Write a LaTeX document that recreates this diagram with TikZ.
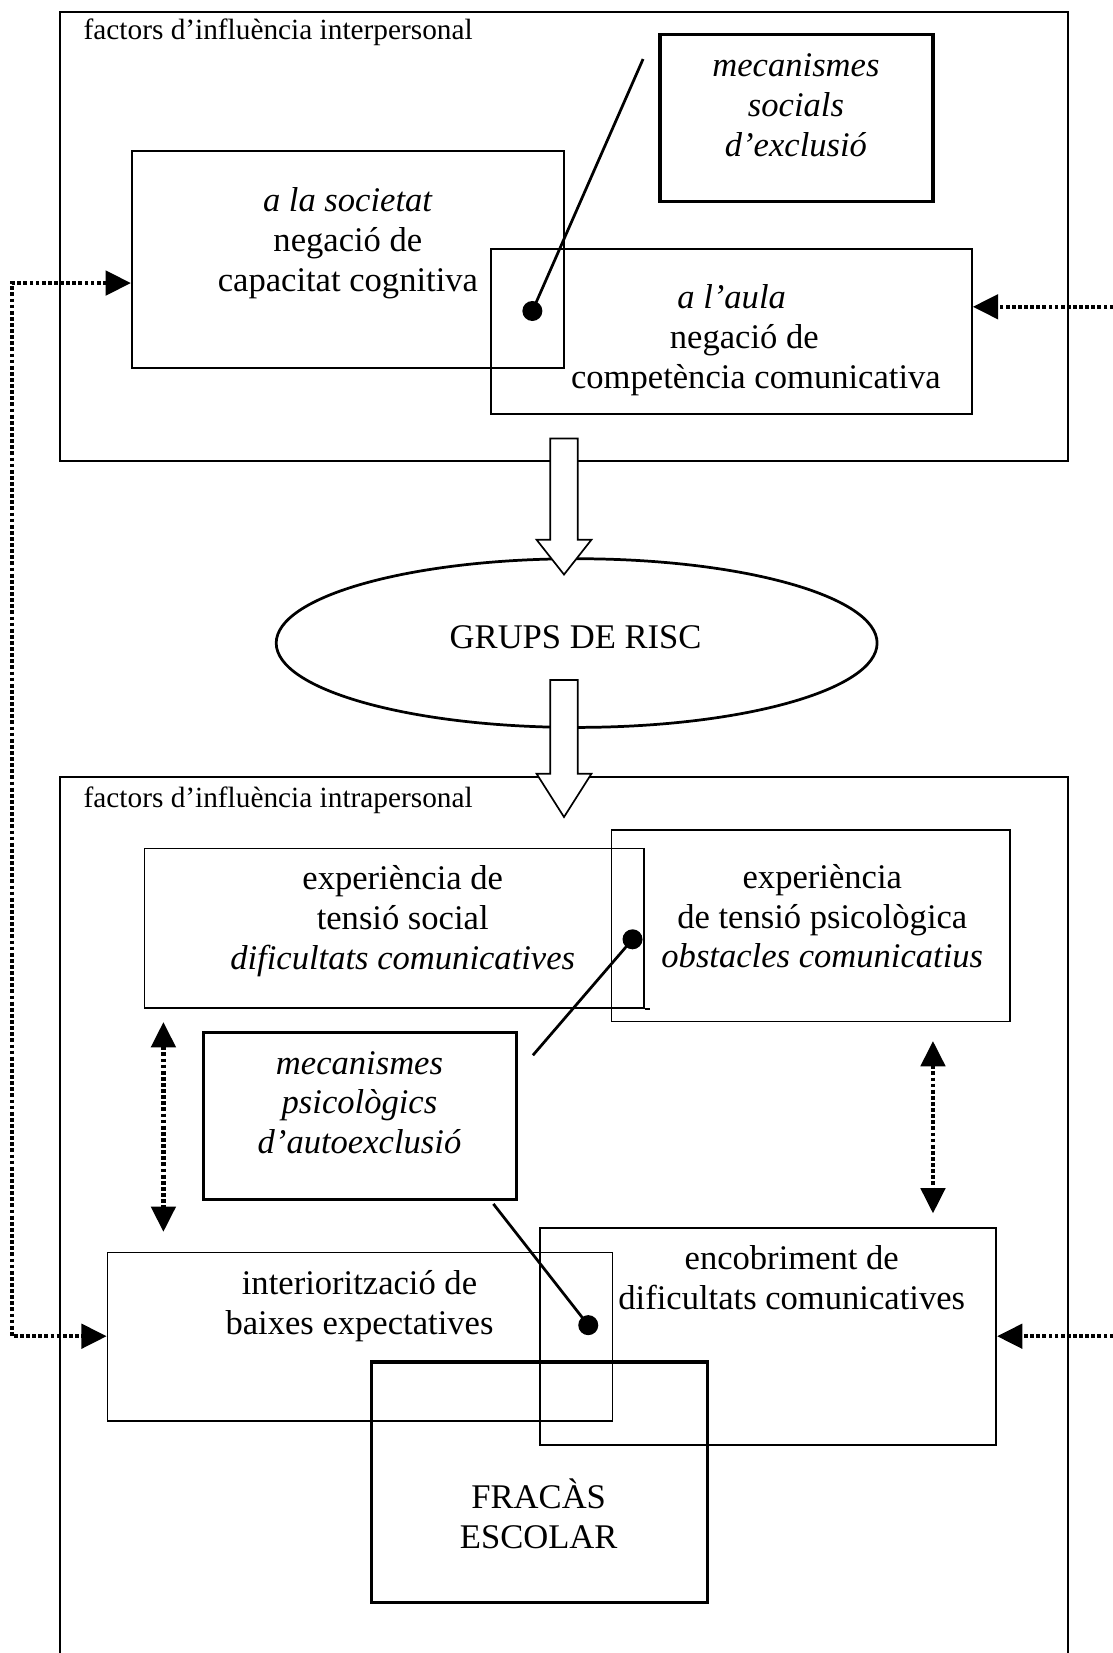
\documentclass[tikz,border=0pt]{standalone}
\usepackage{fontspec}
\setmainfont{Liberation Serif}
\usetikzlibrary{arrows.meta,shapes.geometric,fit}

\newcommand\bodysize{\fontsize{16.4pt}{18.8pt}\selectfont}
\newcommand\capsize{\fontsize{13.9pt}{16pt}\selectfont}
% centred lines, baseline on the first line
\newcommand\rows[1]{\begin{tabular}[t]{@{}c@{}}#1\end{tabular}}

\begin{document}
\begin{tikzpicture}[x=0.5pt, y=-0.5pt,
  >={Triangle[length=12pt,width=11.5pt]},
  frame/.style={draw, line width=0.9pt, inner sep=0pt},
  thinbox/.style={draw, line width=0.8pt, inner sep=0pt},
  thickbox/.style={draw, line width=1.5pt, inner sep=0pt},
  oval/.style={draw, ellipse, line width=1.3pt, inner sep=0pt,
               minimum width=285pt, minimum height=80pt},
  txt/.style={inner sep=0pt, anchor=base, font=\bodysize},
  captxt/.style={inner sep=0pt, anchor=base west, font=\capsize},
  pin/.style={circle, fill, inner sep=0pt, minimum size=9.5pt},
  link/.style={line width=1.3pt},
  dots/.style={line width=2pt, dash pattern=on 1.8pt off 1.1pt},
  blockarrow/.style={draw, fill=white, line width=0.8pt, line join=miter},
]
\useasboundingbox (0,0) rectangle (1055,1568);

% ---------- interpersonal factors ----------
\node[frame, fit={(57,11) (1013,437)}] (upper) {};
\node[captxt] (upcap) at (79,37) {factors d’influència interpersonal};

\node[thinbox, fit={(125,143) (535,349)}] (soc) {};
\node[txt] (soctext) at (330,201)
  {\rows{\textit{a la societat}\\ negació de\\ capacitat cognitiva}};

\node[thinbox, fit={(466,236) (922,393)}] (aula) {};
\node[txt] (aulatext) at (694,293)
  {\rows{\textit{a l’aula}\\ \hspace*{12pt}negació de\\ \hspace*{23pt}competència comunicativa}};

\node[thickbox, fit={(626,33) (885,191)}] (mecsoc) {};
\node[txt] (mecsoctext) at (755,73)
  {\rows{\textit{mecanismes}\\ \textit{socials}\\ \textit{d’exclusió}}};

\node[pin] (pinA) at (505,295) {};
\coordinate (pinAend) at (610,56);
\draw[link] (pinA.center) -- (pinAend);

% ---------- risk groups ----------
\node[oval] (grups) at (547,610) {};
\node[txt] (grupstext) at (546,615) {GRUPS DE RISC};

% ---------- intrapersonal factors ----------
\draw[frame] (57,1580) -- (57,737) -- (1013,737) -- (1013,1580);
\node[captxt] (lowcap) at (79,766) {factors d’influència intrapersonal};

\node[thinbox, fit={(137,805) (611,956)}] (tsoc) {};
\draw[line width=0.8pt] (tsoc.south east) -- ++(5,0);
\node[txt] (tsoctext) at (382,844)
  {\rows{experiència de\\ tensió social\\ \textit{dificultats comunicatives}}};

\node[thinbox, fit={(580,787) (958,969)}] (tpsi) {};
\node[txt] (tpsitext) at (780,843)
  {\rows{experiència\\ de tensió psicològica\\ \textit{obstacles comunicatius}}};

\node[pin] (pinB) at (600,891) {};
\coordinate (pinBend) at (505.5,1001);
\draw[link] (pinB.center) -- (pinBend);

\node[thickbox, fit={(193,979) (490,1138)}] (mecpsi) {};
\node[txt] (mecpsitext) at (341,1019)
  {\rows{\textit{mecanismes}\\ \textit{psicològics}\\ \textit{d’autoexclusió}}};

\coordinate (lA1) at (155,969.5);
\coordinate (lA2) at (155,1168.5);
\draw[dots,<->] (lA1) -- (lA2);
\coordinate (rA1) at (885,987.5);
\coordinate (rA2) at (885,1151);
\draw[dots,<->] (rA1) -- (rA2);

\node[thinbox, fit={(102,1188) (581,1348)}] (inter) {};
\node[txt] (intertext) at (341,1228)
  {\rows{interiorització de\\ baixes expectatives}};

\node[thinbox, fit={(512,1165) (945,1371)}] (enc) {};
\node[txt] (enctext) at (751,1204.5)
  {\rows{encobriment de\\ dificultats comunicatives}};

\node[pin] (pinC) at (558,1257) {};
\coordinate (pinCend) at (468,1142);
\draw[link] (pinC.center) -- (pinCend);

\node[thickbox, fit={(352,1292) (671,1520)}] (fracas) {};
\node[txt] (fracastext) at (511,1431) {\rows{FRACÀS\\ ESCOLAR}};

% ---------- block arrows ----------
\draw[blockarrow] (522,416) -- (548,416) -- (548,512) -- (561,512)
  -- (535,545) -- (509,512) -- (522,512) -- cycle;
\draw[blockarrow] (522,645) -- (548,645) -- (548,734) -- (561,734)
  -- (535,775) -- (509,734) -- (522,734) -- cycle;

% ---------- dotted feedback arrows ----------
\coordinate (loopTop) at (11.5,268.5);
\coordinate (loopBot) at (11.5,1267.5);
\draw[dots,<->] (soc.west |- loopTop) -- (loopTop) -- (loopBot) -- (inter.west |- loopBot);
\coordinate (edgeTop) at (1062,291);
\coordinate (edgeBot) at (1062,1267.5);
\draw[dots,->] (edgeTop) -- (aula.east |- edgeTop);
\draw[dots,->] (edgeBot) -- (enc.east |- edgeBot);
\end{tikzpicture}
\end{document}
